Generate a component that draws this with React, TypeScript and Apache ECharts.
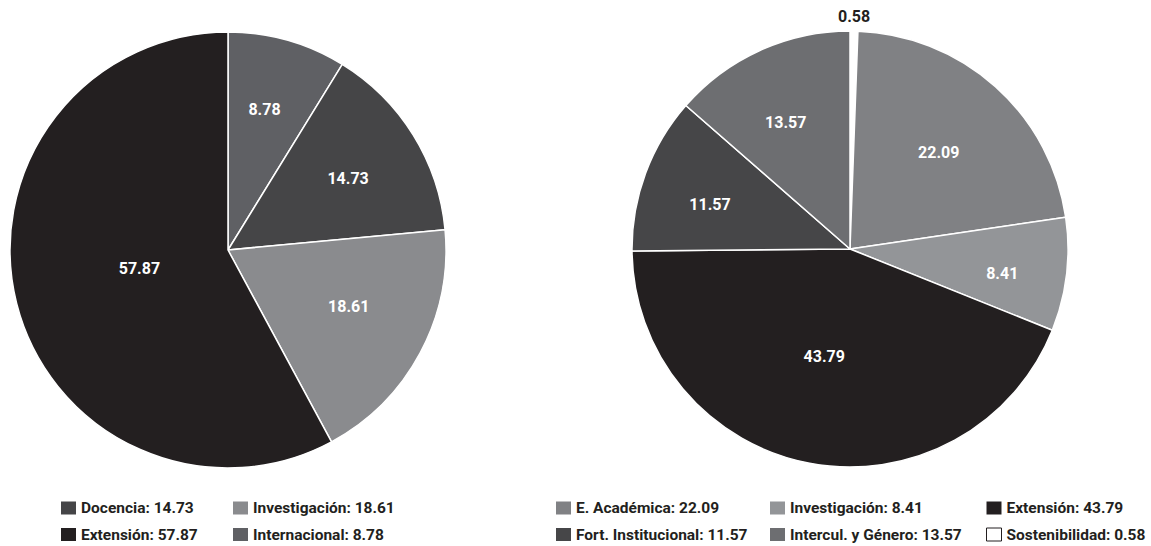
import React, { useEffect, useRef } from "react";
import * as echarts from "echarts";

// ---- Data ----
const leftNames = ["Internacional", "Docencia", "Investigación", "Extensión"];
const leftValues = [8.78, 14.73, 18.61, 57.87];

const rightNames = [
  "Sostenibilidad",
  "E. Académica",
  "Investigación",
  "Extensión",
  "Fort. Institucional",
  "Intercul. y Género",
];
const rightValues = [0.58, 22.09, 8.41, 43.79, 11.57, 13.57];

const leftLegendCols = [
  ["Docencia", "Extensión"],
  ["Investigación", "Internacional"],
];
const rightLegendCols = [
  ["E. Académica", "Fort. Institucional"],
  ["Investigación", "Intercul. y Género"],
  ["Extensión", "Sostenibilidad"],
];

// ---- Styles ----
const leftColors: Record<string, string> = {
  Internacional: "#5f6064",
  Docencia: "#454547",
  Investigación: "#8a8b8e",
  Extensión: "#231f20",
};
const rightColors: Record<string, string> = {
  Sostenibilidad: "#ffffff",
  "E. Académica": "#808184",
  Investigación: "#939598",
  Extensión: "#231f20",
  "Fort. Institucional": "#464648",
  "Intercul. y Género": "#6d6e71",
};
const leftLabelOffsets: Record<string, number[]> = {
  Internacional: [6, -33],
  Docencia: [25, -12],
  Investigación: [22, 4],
  Extensión: [20, -9],
};
const rightLabelOffsets: Record<string, number[]> = {
  Sostenibilidad: [2, -121],
  "E. Académica": [14, -13],
  Investigación: [41, 11],
  Extensión: [-5, -3],
  "Fort. Institucional": [-35, -6],
  "Intercul. y Género": [-18, -25],
};

const FONT = 'Roboto, "Liberation Sans", sans-serif';
const DARK = "#231f20";

function buildPieData(names: string[], values: number[], colors: Record<string, string>, offsets: Record<string, number[]>) {
  return names.map((n, i) => {
    const isWhite = colors[n].toLowerCase() === "#ffffff";
    return {
      name: n,
      value: values[i],
      itemStyle: { color: colors[n] },
      label: {
        offset: offsets[n],
        color: isWhite ? DARK : "#ffffff",
      },
    };
  });
}

function buildLegends(cols: string[][], lefts: number[], names: string[], values: number[], colors: Record<string, string>) {
  const map: Record<string, number> = {};
  names.forEach((n, i) => (map[n] = values[i]));
  return cols.map((col, ci) => ({
    orient: "vertical",
    left: lefts[ci],
    top: 499,
    height: 60,
    padding: 0,
    itemWidth: 15,
    itemHeight: 13,
    itemGap: 8.5,
    icon: "rect",
    selectedMode: false,
    itemStyle: { borderWidth: 0 },
    textStyle: {
      fontFamily: FONT,
      fontSize: 15.5,
      fontWeight: "bold",
      color: DARK,
      lineHeight: 18,
    },
    formatter: (name: string) => `${name}: ${map[name].toFixed(2)}`,
    data: col.map((n) => {
      const c = colors[n];
      const isWhite = c.toLowerCase() === "#ffffff";
      return {
        name: n,
        itemStyle: isWhite
          ? { color: "#ffffff", borderColor: DARK, borderWidth: 1 }
          : { color: c, borderWidth: 0 },
      };
    }),
  }));
}

export default function App() {
  const ref = useRef<HTMLDivElement>(null);

  useEffect(() => {
    if (!ref.current) return;
    const chart = echarts.init(ref.current, undefined, { renderer: "svg" });

    const pieBase = {
      type: "pie",
      radius: 218,
      startAngle: 90,
      clockwise: true,
      avoidLabelOverlap: false,
      itemStyle: { borderColor: "#ffffff", borderWidth: 1.5 },
      label: {
        show: true,
        position: "inside",
        fontFamily: FONT,
        fontSize: 16,
        fontWeight: "bold",
        formatter: (p: any) => Number(p.value).toFixed(2),
      },
      labelLine: { show: false },
      emphasis: { disabled: true },
    };

    chart.setOption({
      animation: false,
      backgroundColor: "#ffffff",
      legend: [
        ...buildLegends(leftLegendCols, [61, 233], leftNames, leftValues, leftColors),
        ...buildLegends(rightLegendCols, [556, 770, 986], rightNames, rightValues, rightColors),
      ],
      series: [
        {
          ...pieBase,
          name: "left",
          center: [228, 250],
          data: buildPieData(leftNames, leftValues, leftColors, leftLabelOffsets),
        },
        {
          ...pieBase,
          name: "right",
          center: [850, 249],
          data: buildPieData(rightNames, rightValues, rightColors, rightLabelOffsets),
        },
      ],
    });

    return () => chart.dispose();
  }, []);

  return (
    <div
      ref={ref}
      style={{ position: "fixed", left: 0, top: 0, width: 1151, height: 546 }}
    />
  );
}
